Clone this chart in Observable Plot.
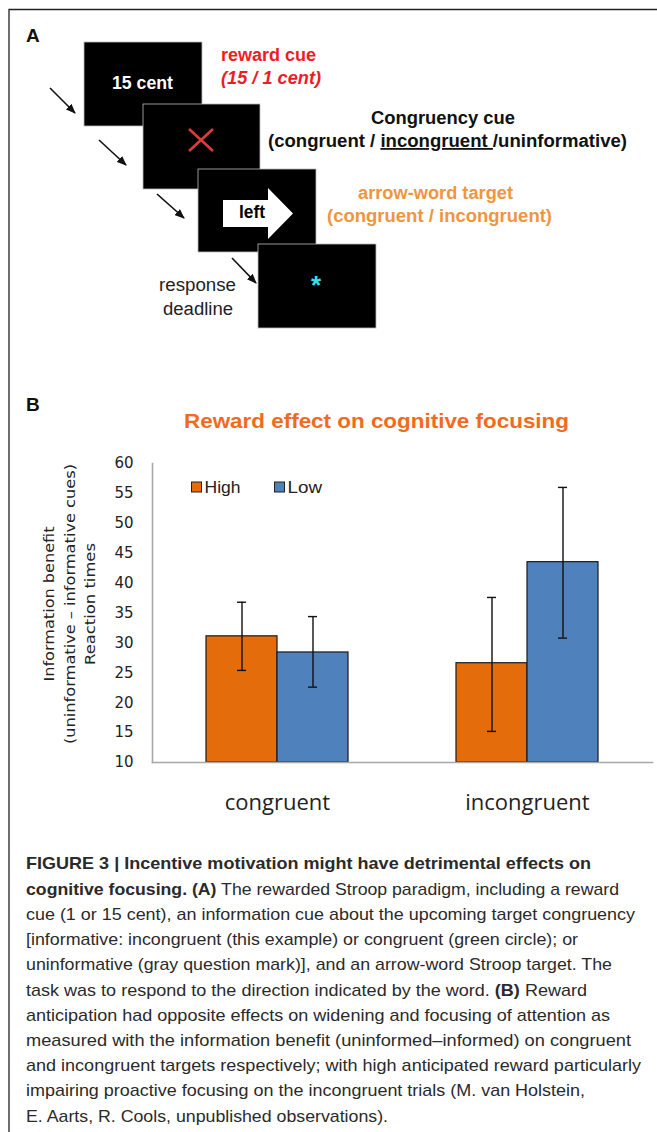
<!DOCTYPE html>
<html><head><meta charset="utf-8">
<script src="https://cdn.jsdelivr.net/npm/d3@7"></script>
<script src="https://cdn.jsdelivr.net/npm/@observablehq/plot@0.6"></script>
<style>
html,body{margin:0;padding:0;background:#fff;}
#page{position:relative;width:657px;height:1132px;overflow:hidden;background:#fff;}
#chartB{position:absolute;left:0;top:440px;}
#overlay{position:absolute;left:0;top:0;pointer-events:none;}
</style></head><body>
<div id="page"><div id="chartB"></div><svg id="overlay" width="657" height="1132" xmlns="http://www.w3.org/2000/svg"></svg></div>
<script>
// ---------- data (panel B) ----------
const categories = ["congruent", "incongruent"];
const series = ["High", "Low"];
const seriesColors = ["#E46C0A", "#4F81BD"];
const highValues = [31.1, 26.6];
const lowValues = [28.4, 43.5];
const highLower = [25.4, 15.2];
const highUpper = [36.8, 37.6];
const lowLower = [22.6, 30.8];
const lowUpper = [34.4, 56.0];
const yTicks = [10, 15, 20, 25, 30, 35, 40, 45, 50, 55, 60];
const chartTitle = "Reward effect on cognitive focusing";
const yTitleLines = ["Information benefit", "(uninformative \u2013 informative cues)", "Reaction times"];

// ---------- texts (panel A and caption) ----------
const captionLines = [
  [["FIGURE 3 | Incentive motivation might have detrimental effects on", true]],
  [["cognitive focusing. (A)", true], [" The rewarded Stroop paradigm, including a reward", false]],
  [["cue (1 or 15 cent), an information cue about the upcoming target congruency", false]],
  [["[informative: incongruent (this example) or congruent (green circle); or", false]],
  [["uninformative (gray question mark)], and an arrow-word Stroop target. The", false]],
  [["task was to respond to the direction indicated by the word. ", false], ["(B)", true], [" Reward", false]],
  [["anticipation had opposite effects on widening and focusing of attention as", false]],
  [["measured with the information benefit (uninformed\u2013informed) on congruent", false]],
  [["and incongruent targets respectively; with high anticipated reward particularly", false]],
  [["impairing proactive focusing on the incongruent trials (M. van Holstein,", false]],
  [["E. Aarts, R. Cools, unpublished observations).", false]]
];
const captionWidths = [565, 593, 609, 552, 586, 561, 584, 605, 615, 559, 362];

// ---------- chart B with Plot ----------
const rows = [];
categories.forEach((c, i) => {
  rows.push({cond: c, series: series[0], value: highValues[i], lo: highLower[i], hi: highUpper[i]});
  rows.push({cond: c, series: series[1], value: lowValues[i], lo: lowLower[i], hi: lowUpper[i]});
});
const yBase = yTicks[0];
const errStyle = {stroke: "#111", strokeWidth: 1.4};
const chart = Plot.plot({
  width: 657, height: 382,
  marginLeft: 152, marginRight: 5, marginTop: 23, marginBottom: 60,
  style: {background: "transparent", fontFamily: "'DejaVu Sans', sans-serif", color: "#222"},
  fx: {domain: categories, padding: 0, label: null},
  x: {domain: series, paddingInner: 0, paddingOuter: 0.748, axis: null},
  y: {domain: [yTicks[0], yTicks[yTicks.length - 1]], label: null},
  color: {domain: series, range: seriesColors},
  marks: [
    Plot.barY(rows, {fx: "cond", x: "series", y1: () => yBase, y2: "value", fill: "series", stroke: "#1a1a1a", strokeWidth: 1.2}),
    Plot.ruleX(rows, {fx: "cond", x: "series", y1: "lo", y2: "hi", ...errStyle}),
    Plot.tickY(rows, {fx: "cond", x: "series", y: "lo", insetLeft: 31, insetRight: 31, ...errStyle}),
    Plot.tickY(rows, {fx: "cond", x: "series", y: "hi", insetLeft: 31, insetRight: 31, ...errStyle}),
    Plot.frame({anchor: "left", facet: "super", stroke: "#a8a8a8", strokeWidth: 1.6}),
    Plot.frame({anchor: "bottom", facet: "super", stroke: "#a8a8a8", strokeWidth: 1.6}),
    Plot.axisY({ticks: yTicks, tickSize: 0, tickPadding: 19, fontSize: 15, label: null}),
    Plot.axisFx({anchor: "bottom", tickSize: 0, tickPadding: 32, fontSize: 22, fontFamily: "'Open Sans', sans-serif", label: null})
  ]
});
document.getElementById("chartB").appendChild(chart);

// ---------- overlay: panel A, titles, legend, caption ----------
const svg = d3.select("#overlay");
const SANS = "'Liberation Sans', Arial, sans-serif";
function txt(x, y, s, o = {}) {
  const t = svg.append("text").attr("x", x).attr("y", y)
    .attr("font-family", o.family || SANS).attr("font-size", o.size || 18)
    .attr("font-weight", o.weight || "normal").attr("font-style", o.italic ? "italic" : "normal")
    .attr("fill", o.fill || "#111").attr("text-anchor", o.anchor || "start").text(s);
  if (o.len) t.attr("textLength", o.len).attr("lengthAdjust", "spacingAndGlyphs");
  return t;
}
// figure border
svg.append("path").attr("d", "M9,1132V9.5H657").attr("fill", "none").attr("stroke", "#222").attr("stroke-width", 1.3);
txt(26, 42, "A", {size: 19, weight: "bold"});
txt(26, 411, "B", {size: 19, weight: "bold"});

// arrow marker
svg.append("defs").append("marker").attr("id", "ah").attr("markerUnits", "userSpaceOnUse")
  .attr("markerWidth", 10).attr("markerHeight", 8).attr("refX", 9).attr("refY", 4).attr("orient", "auto")
  .append("path").attr("d", "M0,0L10,4L0,8z").attr("fill", "#111");
const arrows = [[50, 88, 75, 113], [99, 140, 126, 165], [157, 194, 184, 218], [232, 258, 256, 283]];
arrows.forEach(a => svg.append("line").attr("x1", a[0]).attr("y1", a[1]).attr("x2", a[2]).attr("y2", a[3])
  .attr("stroke", "#111").attr("stroke-width", 1.6).attr("marker-end", "url(#ah)"));
const boxes = [[84, 42, 118, 84], [143, 104, 117, 85], [198, 169, 118, 83], [258, 244, 118, 84]];
boxes.forEach(b => svg.append("rect").attr("x", b[0]).attr("y", b[1]).attr("width", b[2]).attr("height", b[3])
  .attr("fill", "#000").attr("stroke", "#bbb").attr("stroke-width", 0.8));
txt(142.5, 89, "15 cent", {size: 18, weight: "bold", fill: "#fff", anchor: "middle", len: 61});
svg.append("path").attr("d", "M189,129L213,151M213,129L189,151").attr("stroke", "#E03A3A").attr("stroke-width", 2.6);
svg.append("polygon").attr("points", "223,200 268,200 268,188 293,213.5 268,239 268,227 223,227").attr("fill", "#fff");
txt(239, 218, "left", {size: 18, weight: "bold", fill: "#000", len: 26});
txt(316, 294, "*", {size: 26, weight: "bold", fill: "#3FDDE6", anchor: "middle"});

txt(221, 61, "reward cue", {size: 18, weight: "bold", fill: "#EE1C25", len: 95});
txt(221, 84, "(15 / 1 cent)", {size: 18, weight: "bold", italic: true, fill: "#EE1C25", len: 100});
txt(371, 124, "Congruency cue", {size: 18, weight: "bold", fill: "#111", len: 144});
{
  const t = txt(268, 147, "", {size: 18, weight: "bold", fill: "#111", len: 359});
  t.append("tspan").text("(congruent / ");
  t.append("tspan").attr("text-decoration", "underline").text("incongruent ");
  t.append("tspan").text("/uninformative)");
}
txt(358, 199, "arrow-word target", {size: 18, weight: "bold", fill: "#F0953F", len: 155});
txt(327, 222, "(congruent / incongruent)", {size: 18, weight: "bold", fill: "#F0953F", len: 225});
txt(159, 291, "response", {size: 18, fill: "#222", len: 77});
txt(163, 315, "deadline", {size: 18, fill: "#222", len: 70});

// chart title
txt(184, 428, chartTitle, {size: 21, weight: "bold", fill: "#F26B1D", len: 385});
// y-axis title (rotated, three lines)
const yTitleX = [54, 74.5, 95];
const yTitleLen = [155, 280, 122];
yTitleLines.forEach((s, i) => {
  svg.append("text").attr("transform", `translate(${yTitleX[i]},604) rotate(-90)`)
    .attr("text-anchor", "middle").attr("font-family", "'DejaVu Sans', sans-serif").attr("font-size", 14)
    .attr("fill", "#222").attr("textLength", yTitleLen[i]).attr("lengthAdjust", "spacingAndGlyphs").text(s);
});
// legend
const legendX = [191.5, 274.5];
const legendLen = [36, 34.5];
series.forEach((s, i) => {
  svg.append("rect").attr("x", legendX[i]).attr("y", 482).attr("width", 10).attr("height", 10)
    .attr("fill", seriesColors[i]).attr("stroke", "#222").attr("stroke-width", 1);
  txt(legendX[i] + 13, 493, s, {size: 17, fill: "#222", len: legendLen[i]});
});

// caption
captionLines.forEach((segs, i) => {
  const t = svg.append("text").attr("x", 26).attr("y", 869.3 + 25.24 * i)
    .attr("font-family", SANS).attr("font-size", 16.2).attr("fill", "#2a2a2a")
    .attr("textLength", captionWidths[i]).attr("lengthAdjust", "spacingAndGlyphs");
  segs.forEach(([s, b]) => t.append("tspan").attr("font-weight", b ? "bold" : "normal").text(s));
});
</script>
</body></html>
